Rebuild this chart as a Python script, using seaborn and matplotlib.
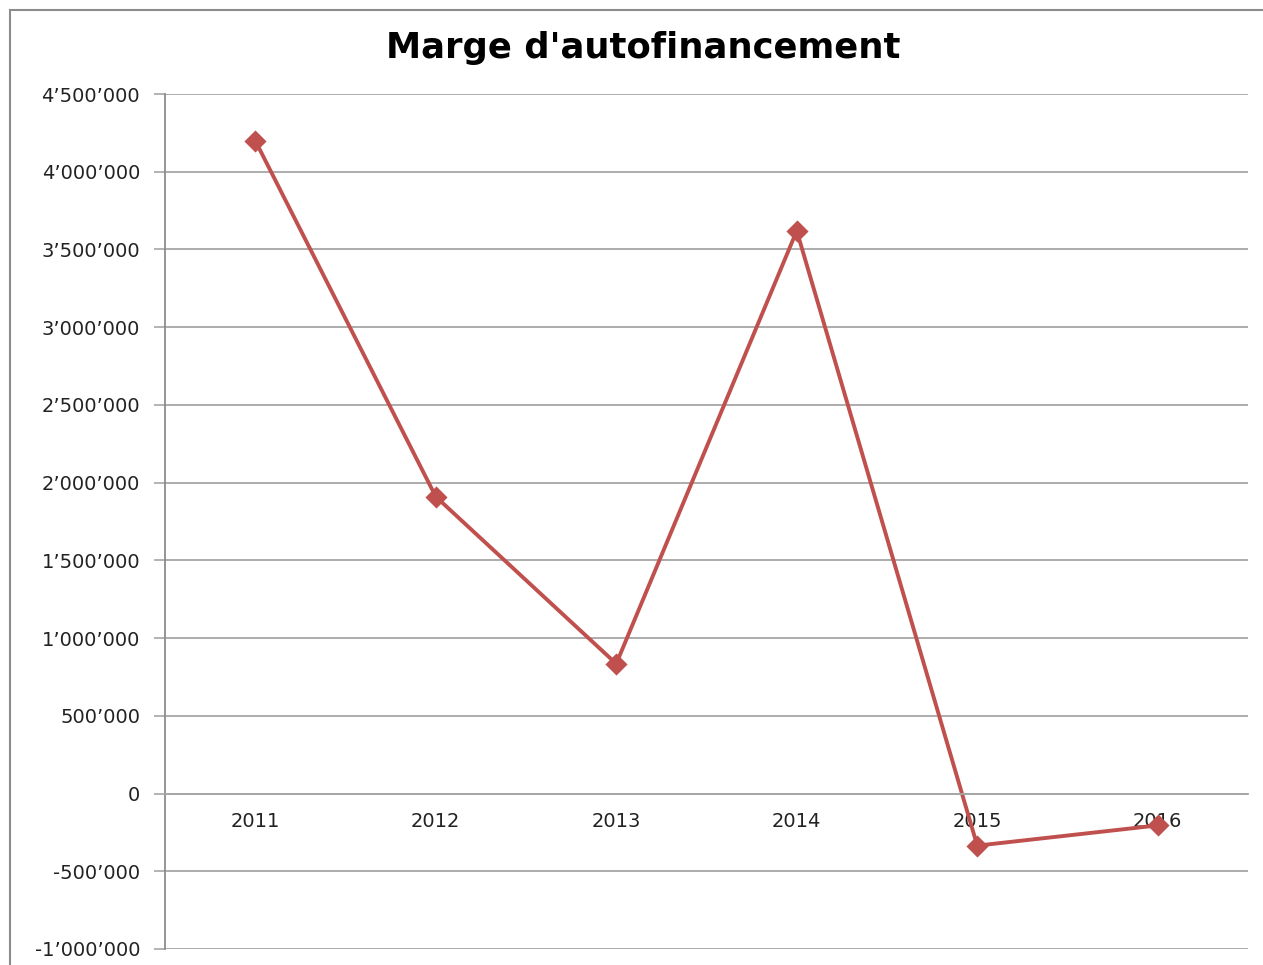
import matplotlib
matplotlib.use("Agg")
import matplotlib.pyplot as plt
import seaborn as sns
import pandas as pd
from matplotlib.ticker import FuncFormatter, MultipleLocator, FixedLocator
from matplotlib.patches import Rectangle

years = ["2011", "2012", "2013", "2014", "2015", "2016"]
values = [4200000, 1910000, 835000, 3620000, -335000, -205000]
title = "Marge d'autofinancement"

df = pd.DataFrame({"year": years, "value": values})

sns.set_style("white")
plt.rcParams["font.family"] = ["DejaVu Sans"]

fig = plt.figure(figsize=(12.63, 9.65), dpi=100)
ax = fig.add_axes([165 / 1263, 1 - 949 / 965, (1248 - 165) / 1263, (949 - 94) / 965])

color = "#C0504D"
sns.pointplot(data=df, x="year", y="value", color=color, markers="D",
              linestyles="-", ax=ax, linewidth=2.8, markersize=9.5)

ax.set_xlim(-0.5, 5.5)
ax.set_ylim(-1000000, 4500000)
ax.yaxis.set_major_locator(MultipleLocator(500000))

def fmt(v, pos):
    s = f"{int(round(v)):,}".replace(",", "\u2019")
    return s
ax.yaxis.set_major_formatter(FuncFormatter(fmt))

ax.grid(axis="y", color="#A6A6A6", linewidth=1.3)
ax.grid(axis="x", visible=False)
ax.set_axisbelow(True)

for s in ["top", "right"]:
    ax.spines[s].set_visible(False)
ax.spines["left"].set_color("#8C8C8C")
ax.spines["left"].set_linewidth(1.3)
ax.spines["bottom"].set_position(("data", 0))
ax.spines["bottom"].set_color("#A6A6A6")
ax.spines["bottom"].set_linewidth(1.3)

ax.xaxis.set_minor_locator(FixedLocator([i - 0.5 for i in range(7)]))
ax.tick_params(axis="x", which="major", length=0, pad=13, labelsize=14, labelcolor="#222222")
ax.tick_params(axis="x", which="minor", length=5, width=1.2, color="#A6A6A6", direction="out")
ax.tick_params(axis="y", which="major", length=8, width=1.2, color="#A6A6A6", pad=10,
               labelsize=14, labelcolor="#222222", left=True)
ax.set_xlabel("")
ax.set_ylabel("")

fig.text((383 + 903) / 2 / 1263, 1 - 48 / 965, title, ha="center", va="center",
         fontsize=25.5, fontweight="bold", color="black")

border = Rectangle((10 / 1263, -0.05), 1.2, 1 - 10 / 965 + 0.05, transform=fig.transFigure,
                   fill=False, edgecolor="#8C8C8C", linewidth=1.5, clip_on=False)
fig.patches.append(border)

fig.savefig("out.png", dpi=100)
